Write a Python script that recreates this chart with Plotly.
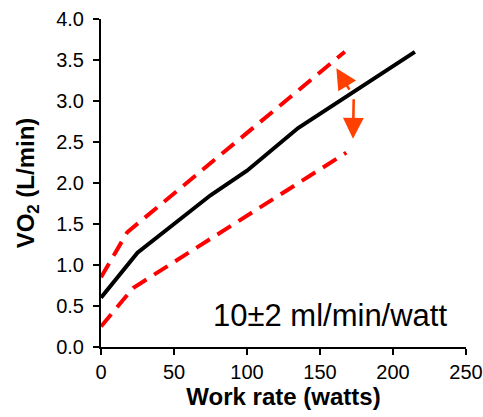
import plotly.graph_objects as go

# Data
work_mean = [0, 25, 50, 75, 100, 135, 215]
vo2_mean = [0.6, 1.15, 1.5, 1.85, 2.15, 2.67, 3.6]

work_upper = [0, 18, 167]
vo2_upper = [0.85, 1.4, 3.6]

work_lower = [0, 22, 168]
vo2_lower = [0.25, 0.72, 2.37]

x_ticks = [0, 50, 100, 150, 200, 250]
y_ticks = [0.0, 0.5, 1.0, 1.5, 2.0, 2.5, 3.0, 3.5, 4.0]
y_tick_labels = ["0.0", "0.5", "1.0", "1.5", "2.0", "2.5", "3.0", "3.5", "4.0"]

annotation_text = "10±2 ml/min/watt"
annotation_pos = (157, 0.39)

# arrows: (head_x, head_y, tail_x, tail_y)
arrow_up = (161.2, 3.40, 170.8, 3.12)
arrow_down = (172.6, 2.54, 173.1, 3.04)

FONT = "Liberation Sans, Arial, sans-serif"
ARROW_COLOR = "#FF4000"

fig = go.Figure()
fig.add_trace(go.Scatter(x=work_upper, y=vo2_upper, mode="lines",
                         line=dict(color="#FF0000", width=4, dash="16px,9px"),
                         hoverinfo="skip"))
fig.add_trace(go.Scatter(x=work_lower, y=vo2_lower, mode="lines",
                         line=dict(color="#FF0000", width=4, dash="16px,9px"),
                         hoverinfo="skip"))
fig.add_trace(go.Scatter(x=work_mean, y=vo2_mean, mode="lines",
                         line=dict(color="#000000", width=4),
                         hoverinfo="skip"))

for hx, hy, tx, ty in (arrow_up, arrow_down):
    fig.add_annotation(x=hx, y=hy, ax=tx, ay=ty, xref="x", yref="y",
                       axref="x", ayref="y", text="", showarrow=True,
                       arrowhead=2, arrowsize=1.6, arrowwidth=2.6,
                       arrowcolor=ARROW_COLOR, standoff=0, startstandoff=0)

fig.add_annotation(x=annotation_pos[0], y=annotation_pos[1], xref="x", yref="y",
                   text=annotation_text, showarrow=False,
                   font=dict(family=FONT, size=31, color="#000000"))

fig.update_layout(
    width=483, height=417,
    margin=dict(l=101, r=17, t=19, b=70),
    paper_bgcolor="white", plot_bgcolor="white",
    showlegend=False,
    font=dict(family=FONT, color="#000000"),
)
fig.update_xaxes(
    range=[0, 250], tickvals=x_ticks, ticktext=[str(v) for v in x_ticks],
    showgrid=False, zeroline=False, showline=True, linecolor="black", linewidth=2,
    ticks="outside", ticklen=6, tickwidth=2, tickcolor="black",
    tickfont=dict(family=FONT, size=20), ticklabelstandoff=0,
    automargin=False,
    title=dict(text="<b>Work rate (watts)</b>", font=dict(family=FONT, size=24), standoff=6),
)
fig.update_yaxes(
    range=[0, 4.0], tickvals=y_ticks, ticktext=y_tick_labels,
    showgrid=False, zeroline=False, showline=True, linecolor="black", linewidth=2,
    ticks="outside", ticklen=6, tickwidth=2, tickcolor="black",
    tickfont=dict(family=FONT, size=20), ticklabelstandoff=5,
    automargin=False,
    title=dict(text="<b>VO<sub>2</sub> (L/min)</b>", font=dict(family=FONT, size=24), standoff=15),
)

# remove the default page margin so the figure fills the window exactly
fig.write_html(
    "out.html",
    config={"displayModeBar": False},
    post_script="document.body.style.margin='0';document.body.style.overflow='hidden';",
)
